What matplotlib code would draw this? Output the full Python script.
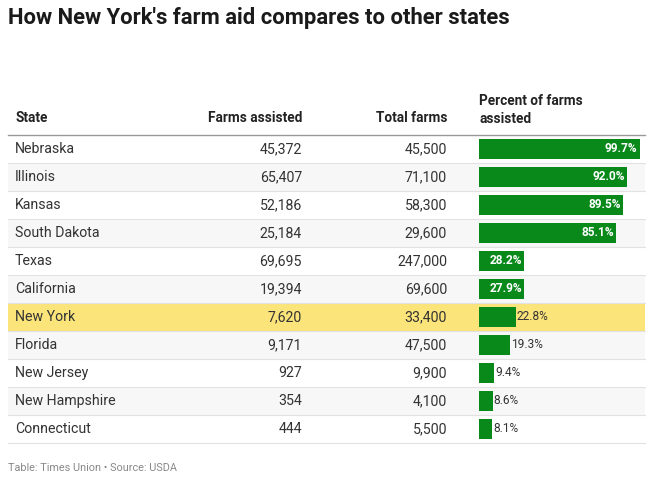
import matplotlib
matplotlib.use("Agg")
import matplotlib.pyplot as plt

plt.rcParams['font.family'] = ['Roboto', 'DejaVu Sans']

states = ["Nebraska", "Illinois", "Kansas", "South Dakota", "Texas", "California",
          "New York", "Florida", "New Jersey", "New Hampshire", "Connecticut"]
farms_assisted = [45372, 65407, 52186, 25184, 69695, 19394, 7620, 9171, 927, 354, 444]
total_farms = [45500, 71100, 58300, 29600, 247000, 69600, 33400, 47500, 9900, 4100, 5500]
percent = [99.7, 92.0, 89.5, 85.1, 28.2, 27.9, 22.8, 19.3, 9.4, 8.6, 8.1]
highlight = "New York"

title = "How New York's farm aid compares to other states"
headers = ["State", "Farms assisted", "Total farms", "Percent of farms\nassisted"]
footer = "Table: Times Union \u2022 Source: USDA"

W, H = 653, 500
fig = plt.figure(figsize=(W / 100, H / 100), dpi=100)
ax = fig.add_axes([0, 0, 1, 1])
ax.set_xlim(0, W)
ax.set_ylim(H, 0)
ax.axis('off')

top = 135
rh = 28
left, right = 8, 645
n = len(states)

ax.text(8, 18, title, fontsize=15.8, fontweight='bold', color='#1a1a1a', va='center', ha='left')

hfs = 9.8
ax.text(15, 118, headers[0], fontsize=hfs, fontweight='bold', color='#222222', va='center')
ax.text(302, 118, headers[1], fontsize=hfs, fontweight='bold', color='#222222', va='center', ha='right')
ax.text(447, 118, headers[2], fontsize=hfs, fontweight='bold', color='#222222', va='center', ha='right')
ax.text(479, 110, headers[3], fontsize=hfs, fontweight='bold', color='#222222', va='center', ha='left',
        linespacing=1.3)

bfs = 10.2
for i, s in enumerate(states):
    y0 = top + i * rh
    if s == highlight:
        bg = '#fbe47a'
    elif i % 2 == 1:
        bg = '#f7f7f7'
    else:
        bg = '#ffffff'
    ax.fill_between([left, right], y0, y0 + rh, color=bg, lw=0, zorder=0)
    ax.plot([left, right], [y0 + rh, y0 + rh], color='#e2e2e2', lw=0.8, zorder=1)
    yc = y0 + rh / 2
    ax.text(15, yc, s, fontsize=bfs, color='#333333', va='center', ha='left')
    ax.text(302, yc, f"{farms_assisted[i]:,}", fontsize=bfs, color='#333333', va='center', ha='right')
    ax.text(447, yc, f"{total_farms[i]:,}", fontsize=bfs, color='#333333', va='center', ha='right')

ax.plot([left, right], [top, top], color='#999999', lw=1.0, zorder=2)

ax.text(8, 468, footer, fontsize=7.8, color='#888888', va='center', ha='left')

# bar column
bx0 = 479
bw = 161
bax = fig.add_axes([bx0 / W, (H - (top + n * rh)) / H, bw / W, n * rh / H])
bax.set_xlim(0, 100)
bax.set_ylim(n - 0.5, -0.5)
bax.axis('off')
bax.patch.set_alpha(0)
ypos = list(range(n))
bax.barh(ypos, percent, height=20 / 28, color='#08891a', zorder=3)
for i, p in enumerate(percent):
    lbl = f"{p:.1f}%"
    if p > 25:
        bax.text(p - 1.2, i, lbl, fontsize=8.6, fontweight='bold', color='white', va='center', ha='right', zorder=4)
    else:
        bax.text(p + 0.6, i, lbl, fontsize=8.6, color='#333333', va='center', ha='left', zorder=4)

fig.savefig('out.png', dpi=100)
